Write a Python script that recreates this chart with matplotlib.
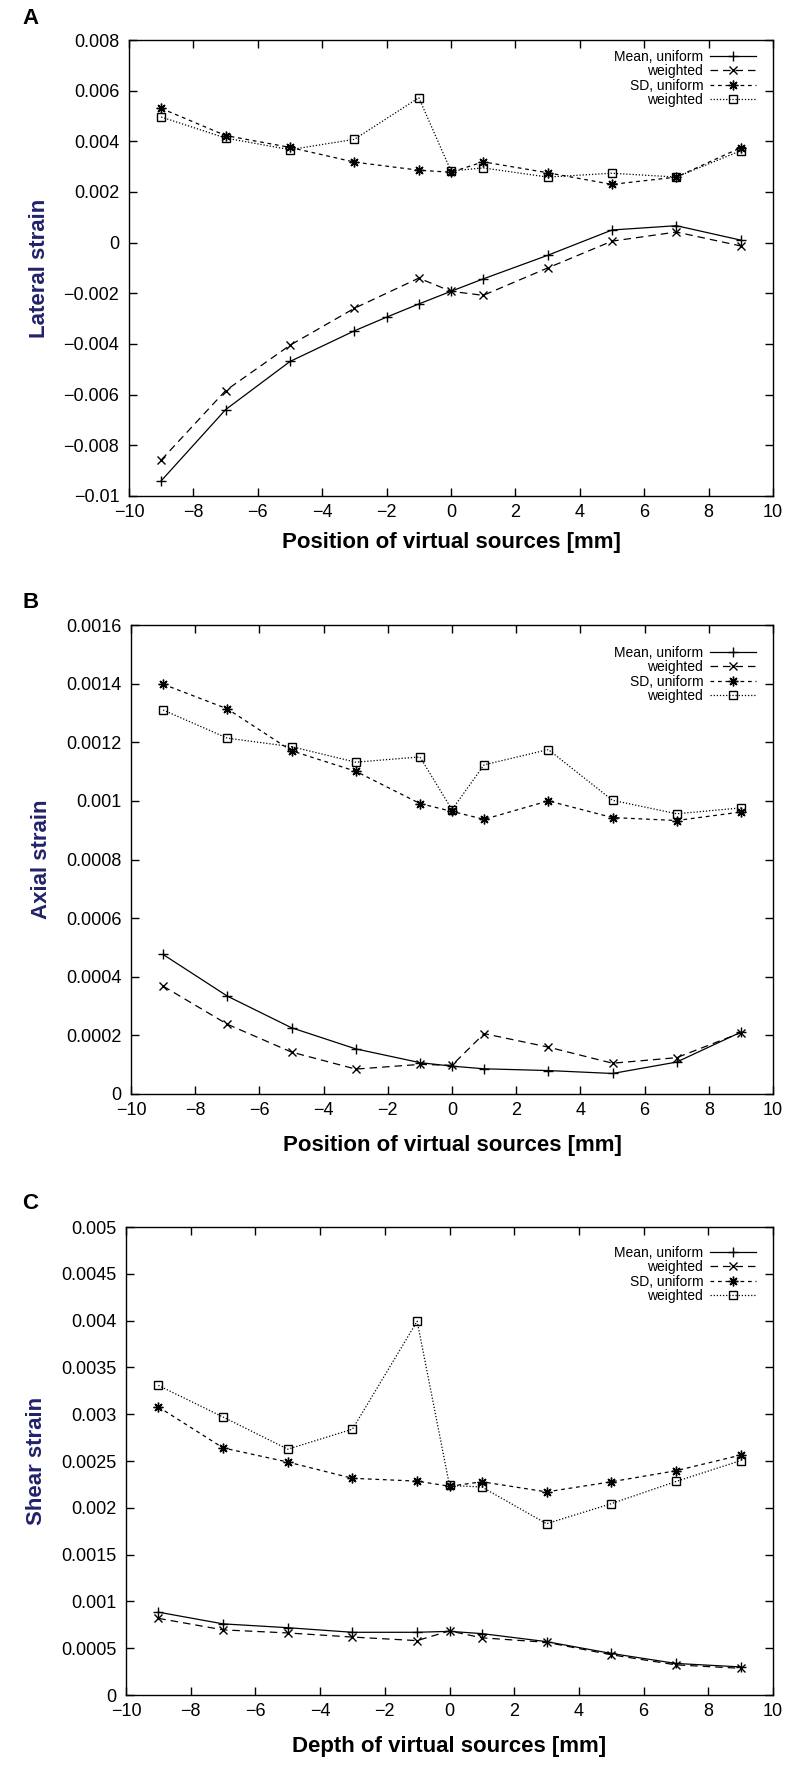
import matplotlib
matplotlib.use("Agg")
import matplotlib.pyplot as plt

plt.rcParams['font.family'] = ['Liberation Sans', 'DejaVu Sans']

# positions of the virtual sources [mm]
x = [-9, -7, -5, -3, -1, 0, 1, 3, 5, 7, 9]
x_a_mean_uni = [-9, -7, -5, -3, -2, -1, 0, 1, 3, 5, 7, 9]

# A: lateral strain
a_mean_uni = [-0.0094, -0.00659, -0.00469, -0.00348, -0.00294, -0.00242,
              -0.00192, -0.00143, -0.0005, 0.0005, 0.00067, 0.0001]
a_mean_wt = [-0.00858, -0.00584, -0.00405, -0.00259, -0.0014, -0.00192,
             -0.00208, -0.001, 0.00006, 0.00042, -0.00013]
a_sd_uni = [0.0053, 0.00423, 0.00376, 0.00318, 0.00286, 0.00278,
            0.00319, 0.00276, 0.0023, 0.00259, 0.00375]
a_sd_wt = [0.00496, 0.00413, 0.00367, 0.00408, 0.00572, 0.00283,
           0.00295, 0.00259, 0.00274, 0.00259, 0.00363]

# B: axial strain
b_mean_uni = [0.000476, 0.000334, 0.000226, 0.000154, 0.000107, 0.000095,
              0.000086, 0.00008, 0.00007, 0.000109, 0.000211]
b_mean_wt = [0.000368, 0.000238, 0.000143, 0.000085, 0.000101, 0.000098,
             0.000206, 0.00016, 0.000105, 0.000124, 0.000209]
b_sd_uni = [0.001398, 0.001314, 0.001171, 0.001101, 0.000991, 0.000964,
            0.000937, 0.001, 0.000943, 0.000933, 0.000962]
b_sd_wt = [0.00131, 0.001214, 0.001185, 0.001132, 0.00115, 0.00097,
           0.001123, 0.001175, 0.001002, 0.000956, 0.000976]

# C: shear strain
c_mean_uni = [0.000885, 0.00076, 0.000719, 0.00067, 0.00067, 0.00068,
              0.000656, 0.00057, 0.000444, 0.000337, 0.0003]
c_mean_wt = [0.000819, 0.000696, 0.000663, 0.000619, 0.000581, 0.000685,
             0.000611, 0.000563, 0.00043, 0.000322, 0.000285]
c_sd_uni = [0.003078, 0.00264, 0.002489, 0.002315, 0.002285, 0.00223,
            0.002278, 0.00217, 0.002278, 0.002396, 0.002563]
c_sd_wt = [0.003307, 0.00297, 0.002626, 0.00284, 0.003993, 0.00224,
           0.002222, 0.00183, 0.002044, 0.002281, 0.002504]

a_yticks = [-0.01, -0.008, -0.006, -0.004, -0.002, 0, 0.002, 0.004, 0.006, 0.008]
a_ylabels = ["\u22120.01", "\u22120.008", "\u22120.006", "\u22120.004", "\u22120.002",
             "0", "0.002", "0.004", "0.006", "0.008"]
b_yticks = [0, 0.0002, 0.0004, 0.0006, 0.0008, 0.001, 0.0012, 0.0014, 0.0016]
b_ylabels = ["0", "0.0002", "0.0004", "0.0006", "0.0008", "0.001", "0.0012", "0.0014", "0.0016"]
c_yticks = [0, 0.0005, 0.001, 0.0015, 0.002, 0.0025, 0.003, 0.0035, 0.004, 0.0045, 0.005]
c_ylabels = ["0", "0.0005", "0.001", "0.0015", "0.002", "0.0025", "0.003",
             "0.0035", "0.004", "0.0045", "0.005"]
xticks = [-10, -8, -6, -4, -2, 0, 2, 4, 6, 8, 10]
xlabels = ["\u221210", "\u22128", "\u22126", "\u22124", "\u22122", "0", "2", "4", "6", "8", "10"]

ylab_color = "#22226a"
asterisk = (8, 2, 0)

W, H = 785, 1769
fig = plt.figure(figsize=(W / 100, H / 100), dpi=100)


def add_axes(left, top, right, bottom):
    return fig.add_axes([left / W, 1 - bottom / H, (right - left) / W, (bottom - top) / H])


def panel(ax, mx, mean_uni, mean_wt, sd_uni, sd_wt, ylim, yticks, ylabels, ylabel, xlabel,
          leg_top, xpad):
    lw = 0.9
    ax.plot(mx, mean_uni, color="black", lw=lw, ls="-", marker="+", ms=7, mew=1,
            label="Mean, uniform")
    ax.plot(x, mean_wt, color="black", lw=lw, ls=(0, (6, 4)), marker="x", ms=6, mew=1,
            label="weighted")
    ax.plot(x, sd_uni, color="black", lw=lw, ls=(0, (3, 3)), marker=asterisk, ms=7, mew=1,
            label="SD, uniform")
    ax.plot(x, sd_wt, color="black", lw=lw, ls=(0, (1, 1.5)), marker="s", ms=6, mew=1,
            mfc="none", label="weighted")
    ax.set_xlim(-10, 10)
    ax.set_ylim(*ylim)
    ax.set_xticks(xticks)
    ax.set_xticklabels(xlabels)
    ax.set_yticks(yticks)
    ax.set_yticklabels(ylabels)
    ax.tick_params(direction="in", length=6, width=1, top=True, right=True, labelsize=13)
    ax.tick_params(axis="y", pad=7)
    ax.tick_params(axis="x", pad=6)
    for s in ax.spines.values():
        s.set_linewidth(1)
    ax.set_ylabel(ylabel, fontsize=16, fontweight="bold", color=ylab_color, labelpad=10)
    ax.set_xlabel(xlabel, fontsize=16, fontweight="bold", labelpad=xpad)
    h = ax.get_window_extent().height
    w = ax.get_window_extent().width
    ax.legend(loc="upper right", frameon=False, markerfirst=False, fontsize=10,
              handlelength=3.3, labelspacing=0.02, borderaxespad=0, borderpad=0,
              handletextpad=0.5,
              bbox_to_anchor=(1 - 17 / w, 1 - leg_top / h))


ax1 = add_axes(129, 40, 773, 496)
panel(ax1, x_a_mean_uni, a_mean_uni, a_mean_wt, a_sd_uni, a_sd_wt, (-0.01, 0.008),
      a_yticks, a_ylabels, "Lateral strain", "Position of virtual sources [mm]", 10, 8)

ax2 = add_axes(131, 625, 773, 1094)
panel(ax2, x, b_mean_uni, b_mean_wt, b_sd_uni, b_sd_wt, (0, 0.0016),
      b_yticks, b_ylabels, "Axial strain", "Position of virtual sources [mm]", 21, 11)

ax3 = add_axes(126, 1227, 773, 1695)
panel(ax3, x, c_mean_uni, c_mean_wt, c_sd_uni, c_sd_wt, (0, 0.005),
      c_yticks, c_ylabels, "Shear strain", "Depth of virtual sources [mm]", 19, 11)

for letter, ypix in [("A", 18), ("B", 603), ("C", 1203)]:
    fig.text(22 / W, 1 - ypix / H, letter, fontsize=16, fontweight="bold", va="center")

fig.savefig("out.png", dpi=100, facecolor="white")
